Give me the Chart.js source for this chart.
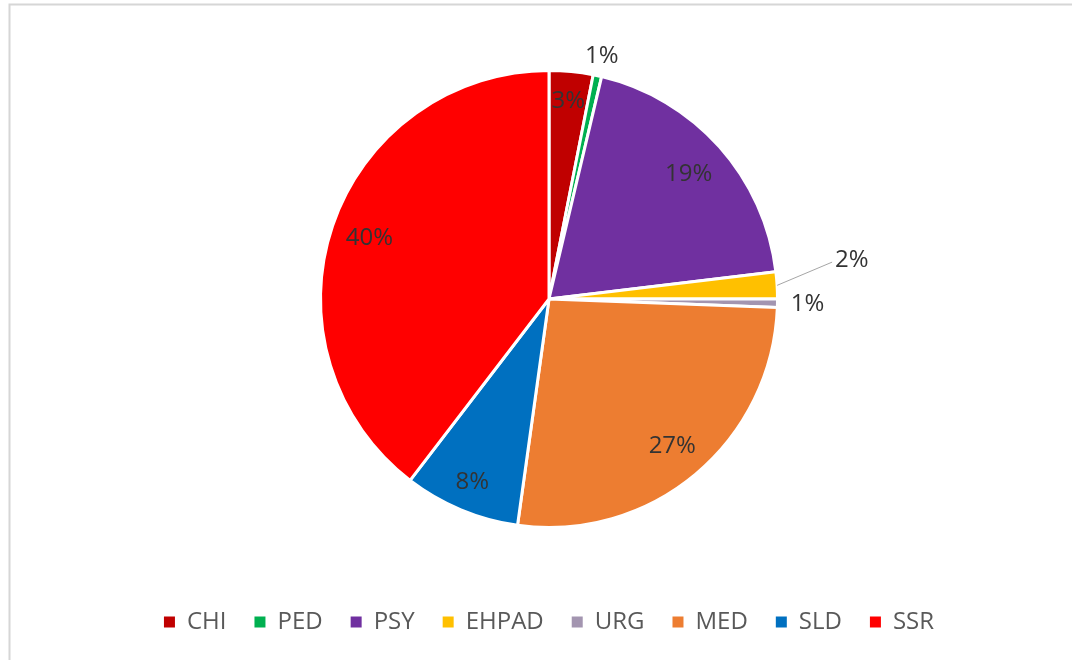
<!DOCTYPE html>
<html>
<head>
<meta charset="utf-8">
<script src="https://cdn.jsdelivr.net/npm/chart.js@4/dist/chart.umd.min.js"></script>
<style>
  html, body { margin: 0; padding: 0; background: #fff; }
  #wrap { width: 1072px; height: 660px; position: relative; }
</style>
</head>
<body>
<div id="wrap"><canvas id="pieChart" width="1072" height="660"></canvas></div>
<script>
// ==================== DATA ====================
const categories = ["CHI", "PED", "PSY", "EHPAD", "URG", "MED", "SLD", "SSR"];
const shares = [3.1, 0.6, 19.4, 1.9, 0.6, 26.6, 8.2, 39.6];
const sliceColors = ["#C00000", "#00B050", "#7030A0", "#FFC000", "#A395B0", "#ED7D31", "#0070C0", "#FF0000"];

// how each label sits: inside (fraction of radius), outside, or with a leader line
const labelMode = ["inside", "outside", "inside", "leader", "outside", "inside", "inside", "inside"];
const labelRadius = [0.87, 20, 0.82, 57, 30, 0.84, 0.87, 0.83];

const FONT = "'Open Sans', sans-serif";

// ==================== PLUGINS ====================
const frame = {
    id: "frame",
    beforeDraw(chart) {
        const c = chart.ctx;
        c.save();
        c.fillStyle = "#fff";
        c.fillRect(0, 0, chart.width, chart.height);
        c.strokeStyle = "#d6d6d6";
        c.lineWidth = 2;
        c.beginPath();
        c.moveTo(9.5, chart.height);
        c.lineTo(9.5, 4.5);
        c.lineTo(chart.width, 4.5);
        c.stroke();
        c.restore();
    }
};

const pctLabels = {
    id: "pctLabels",
    afterDatasetsDraw(chart) {
        const c = chart.ctx;
        const meta = chart.getDatasetMeta(0);
        const values = chart.data.datasets[0].data;
        const total = values.reduce((a, b) => a + b, 0);
        c.save();
        c.font = `24px ${FONT}`;
        c.fillStyle = "#333333";
        c.textBaseline = "middle";
        meta.data.forEach((arc, i) => {
            const { x, y, startAngle, endAngle, outerRadius } = arc.getProps(["x", "y", "startAngle", "endAngle", "outerRadius"], true);
            const mid = (startAngle + endAngle) / 2;
            const txt = Math.round(values[i] / total * 100) + "%";
            if (labelMode[i] === "inside") {
                const r = outerRadius * labelRadius[i];
                c.textAlign = "center";
                c.fillText(txt, x + r * Math.cos(mid), y + r * Math.sin(mid));
            } else if (labelMode[i] === "outside") {
                const r = outerRadius + labelRadius[i];
                c.textAlign = "center";
                c.fillText(txt, x + r * Math.cos(mid), y + r * Math.sin(mid));
            } else {
                const a2 = mid - 4 * Math.PI / 180;
                const r2 = outerRadius + labelRadius[i];
                const sx = x + outerRadius * Math.cos(mid), sy = y + outerRadius * Math.sin(mid);
                const ex = x + r2 * Math.cos(a2), ey = y + r2 * Math.sin(a2);
                c.strokeStyle = "#a6a6a6";
                c.lineWidth = 1;
                c.beginPath();
                c.moveTo(sx, sy);
                c.lineTo(ex, ey);
                c.stroke();
                c.textAlign = "left";
                c.fillText(txt, ex + 3, ey - 2);
            }
        });
        c.restore();
    }
};

// ==================== CHART ====================
const ctx = document.getElementById("pieChart").getContext("2d");
new Chart(ctx, {
    type: "pie",
    data: {
        labels: categories,
        datasets: [{
            data: shares,
            backgroundColor: sliceColors,
            borderColor: "#fff",
            borderWidth: 3,
            hoverOffset: 0,
        }],
    },
    options: {
        responsive: false,
        animation: false,
        layout: { padding: { top: 69, bottom: 16, left: 26, right: 0 } },
        plugins: {
            legend: {
                position: "bottom",
                // empty title only pushes the legend row down
                title: { display: true, text: "", font: { size: 10 }, padding: { top: 41, bottom: 0 } },
                labels: {
                    boxWidth: 11,
                    boxHeight: 11,
                    padding: 28,
                    color: "#595959",
                    font: { family: FONT, size: 24 },
                    generateLabels: chart => Chart.overrides.pie.plugins.legend.labels.generateLabels(chart)
                        .map(item => ({ ...item, lineWidth: 0 })),
                },
            },
            tooltip: { enabled: false },
        },
    },
    plugins: [frame, pctLabels],
});
</script>
</body>
</html>
